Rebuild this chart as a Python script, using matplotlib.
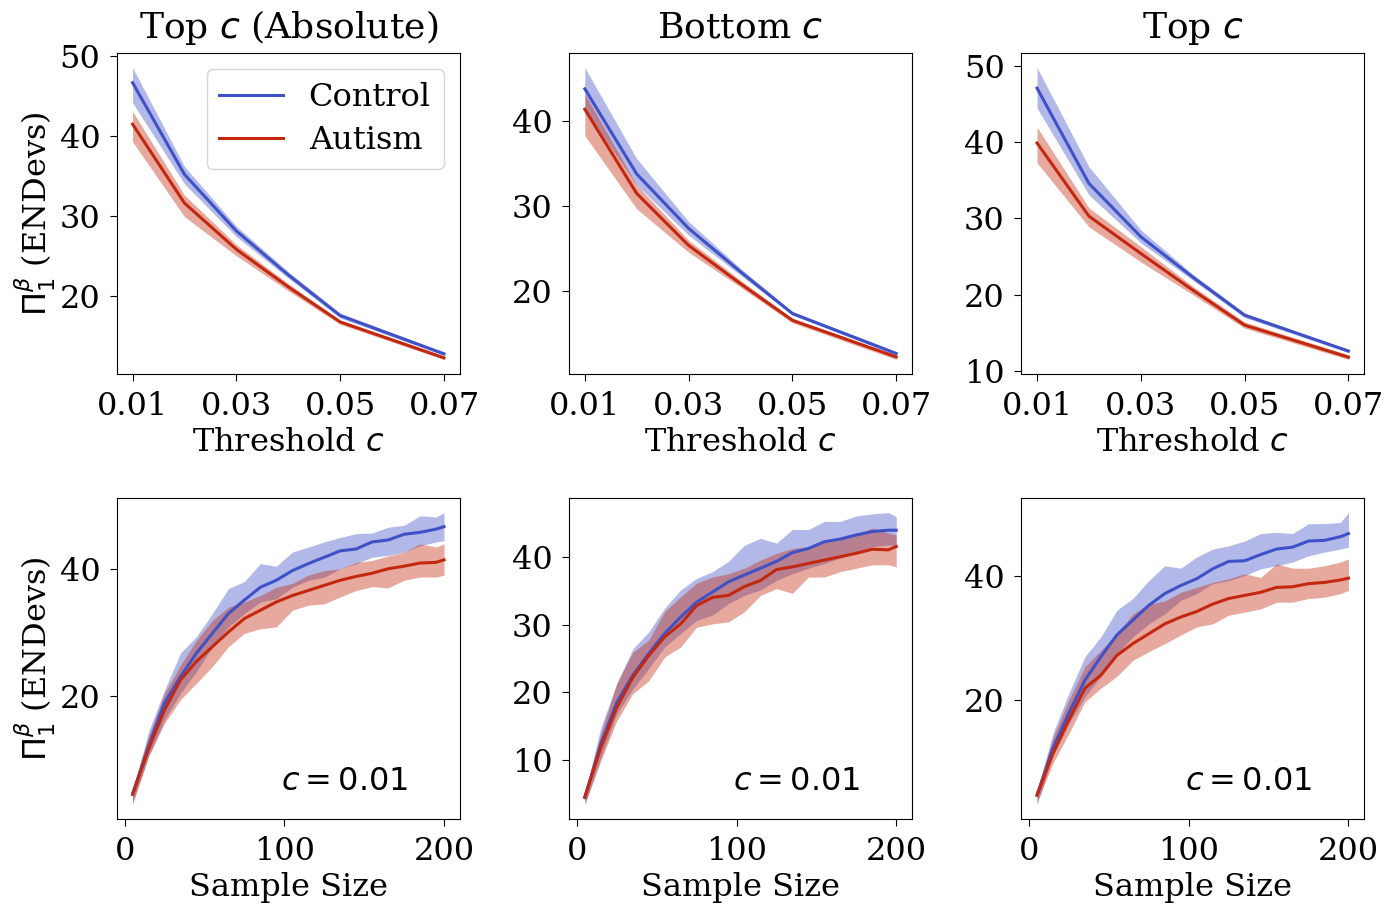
import numpy as np
import matplotlib
matplotlib.use("Agg")
import matplotlib.pyplot as plt

plt.rcParams['font.family'] = ['DejaVu Serif']
plt.rcParams['mathtext.fontset'] = 'dejavusans'

# ---------------- data ----------------
thresholds = [0.01, 0.02, 0.03, 0.04, 0.05, 0.07]

# Top c (Absolute)
abs_ctrl = [46.7, 35.2, 28.1, 22.6, 17.5, 12.7]
abs_ctrl_lo = [44.2, 34.0, 27.4, 22.2, 17.2, 12.5]
abs_ctrl_hi = [48.6, 36.2, 28.7, 23.0, 17.8, 12.9]
abs_aut = [41.5, 31.6, 25.8, 21.1, 16.7, 12.2]
abs_aut_lo = [39.3, 29.9, 25.0, 20.6, 16.4, 12.0]
abs_aut_hi = [43.1, 32.6, 26.4, 21.5, 16.9, 12.4]

# Bottom c
bot_ctrl = [43.8, 33.8, 27.4, 22.3, 17.4, 12.7]
bot_ctrl_lo = [41.4, 32.5, 26.6, 21.9, 17.2, 12.5]
bot_ctrl_hi = [46.3, 35.6, 28.2, 22.7, 17.6, 12.9]
bot_aut = [41.4, 31.5, 25.4, 20.9, 16.6, 12.3]
bot_aut_lo = [38.3, 29.7, 24.6, 20.5, 16.3, 12.0]
bot_aut_hi = [43.2, 32.5, 26.0, 21.3, 16.8, 12.5]

# Top c
top_ctrl = [47.1, 34.6, 27.6, 22.3, 17.3, 12.6]
top_ctrl_lo = [44.5, 33.1, 26.8, 21.9, 17.0, 12.4]
top_ctrl_hi = [49.8, 36.8, 28.5, 22.7, 17.6, 12.8]
top_aut = [39.9, 30.3, 25.4, 20.6, 16.0, 11.8]
top_aut_lo = [37.3, 28.9, 24.3, 20.0, 15.6, 11.5]
top_aut_hi = [42.0, 31.4, 26.3, 21.1, 16.4, 12.1]

sample_sizes = [5, 15, 25, 35, 45, 55, 65, 75, 85, 95, 105, 115, 125, 135,
                145, 155, 165, 175, 185, 195, 200]

# Top c (Absolute), c = 0.01
ss_abs_ctrl = [4.7, 12.2, 19.0, 23.1, 26.8, 29.9, 33.0, 35.1, 37.1, 38.2, 39.7,
               40.8, 41.8, 42.8, 43.1, 44.2, 44.5, 45.4, 45.7, 46.2, 46.6]
ss_abs_ctrl_hi = [5.2, 14.5, 21.0, 26.8, 29.4, 33.0, 36.9, 38.0, 40.8, 40.4, 42.6,
                  43.4, 44.2, 44.9, 45.5, 45.6, 46.5, 46.8, 48.3, 48.1, 48.8]
ss_abs_ctrl_lo = [3.4, 10.6, 16.4, 20.5, 23.9, 27.8, 30.9, 33.0, 34.8, 35.3, 37.1,
                  38.2, 38.7, 40.0, 40.8, 41.8, 42.1, 42.6, 43.6, 44.2, 44.4]
ss_abs_aut = [4.7, 11.8, 17.9, 22.6, 25.5, 27.8, 30.1, 32.2, 33.5, 34.8, 35.8,
              36.6, 37.4, 38.2, 38.8, 39.3, 40.0, 40.4, 40.9, 41.0, 41.4]
ss_abs_aut_hi = [5.5, 13.8, 20.5, 24.9, 28.8, 31.9, 34.0, 34.8, 35.8, 37.1, 37.7,
                 39.0, 39.7, 40.0, 41.0, 41.3, 42.0, 42.6, 43.9, 43.4, 43.9]
ss_abs_aut_lo = [3.1, 10.6, 15.8, 19.5, 22.1, 24.7, 27.8, 29.9, 30.6, 30.9, 33.5,
                 34.3, 34.5, 35.6, 36.6, 37.2, 37.0, 38.2, 38.7, 38.7, 39.0]

# Bottom c, c = 0.01
ss_bot_ctrl = [4.5, 12.4, 18.5, 22.5, 25.7, 28.7, 31.1, 33.3, 34.8, 36.3, 37.3,
               38.3, 39.3, 40.6, 41.2, 42.2, 42.6, 43.2, 43.7, 43.9, 43.9]
ss_bot_ctrl_hi = [5.0, 14.8, 21.3, 26.4, 28.9, 32.4, 35.1, 36.8, 37.8, 39.3, 41.7,
                  42.7, 42.0, 44.0, 44.0, 45.2, 45.2, 46.0, 46.3, 46.5, 45.9]
ss_bot_ctrl_lo = [3.5, 10.4, 16.8, 20.5, 23.5, 26.7, 28.7, 30.6, 31.4, 33.1, 34.3,
                  35.1, 36.5, 37.5, 38.3, 39.0, 39.8, 40.7, 41.5, 41.7, 41.7]
ss_bot_aut = [4.6, 11.9, 17.8, 22.2, 25.4, 28.2, 30.1, 32.8, 34.0, 34.3, 35.6,
              36.5, 38.1, 38.5, 39.0, 39.5, 40.0, 40.5, 41.1, 41.0, 41.5]
ss_bot_aut_hi = [5.2, 13.9, 21.3, 25.9, 27.7, 31.9, 34.1, 36.1, 37.0, 37.5, 38.3,
                 39.5, 40.5, 41.2, 41.5, 42.5, 42.7, 43.2, 44.2, 43.5, 43.2]
ss_bot_aut_lo = [3.5, 9.9, 15.8, 19.8, 21.7, 25.2, 26.7, 29.6, 30.1, 30.4, 31.9,
                 34.3, 35.3, 34.6, 37.0, 37.0, 37.8, 38.3, 38.8, 38.8, 38.5]

# Top c, c = 0.01
ss_top_ctrl = [4.6, 12.2, 17.9, 23.2, 27.0, 30.5, 32.9, 35.3, 37.2, 38.5, 39.6,
               41.2, 42.4, 42.5, 43.5, 44.4, 44.7, 45.7, 45.8, 46.4, 46.9]
ss_top_ctrl_hi = [5.3, 14.6, 21.1, 27.0, 30.2, 34.5, 36.4, 39.3, 41.7, 41.3, 43.1,
                  44.4, 44.9, 45.7, 46.9, 47.1, 46.9, 48.5, 48.5, 48.7, 50.3]
ss_top_ctrl_lo = [3.1, 10.9, 16.2, 20.5, 23.8, 27.5, 30.2, 32.3, 33.9, 36.1, 37.2,
                  38.8, 39.3, 40.1, 41.2, 41.7, 42.3, 43.3, 43.9, 44.4, 44.7]
ss_top_aut = [4.6, 11.4, 16.8, 21.9, 24.0, 27.2, 29.1, 30.7, 32.3, 33.4, 34.3,
              35.5, 36.4, 36.9, 37.4, 38.2, 38.3, 38.8, 39.0, 39.4, 39.7]
ss_top_aut_hi = [5.3, 13.9, 20.0, 25.4, 28.0, 30.7, 33.9, 35.5, 36.0, 37.4, 38.2,
                 39.0, 39.6, 40.4, 39.8, 42.0, 41.3, 41.3, 41.7, 42.3, 42.8]
ss_top_aut_lo = [3.4, 9.8, 14.6, 19.7, 21.9, 23.8, 26.4, 27.8, 29.1, 30.5, 31.8,
                 32.3, 33.7, 34.2, 34.7, 35.8, 35.8, 36.4, 36.6, 37.2, 37.7]

titles = ["Top $c$ (Absolute)", "Bottom $c$", "Top $c$"]
ylabel = r"$\Pi_1^\beta$ (ENDevs)"
ctrl_color = "#3f51c6"
aut_color = "#c3280e"

top_sets = [
    (abs_ctrl, abs_ctrl_lo, abs_ctrl_hi, abs_aut, abs_aut_lo, abs_aut_hi),
    (bot_ctrl, bot_ctrl_lo, bot_ctrl_hi, bot_aut, bot_aut_lo, bot_aut_hi),
    (top_ctrl, top_ctrl_lo, top_ctrl_hi, top_aut, top_aut_lo, top_aut_hi),
]
bottom_sets = [
    (ss_abs_ctrl, ss_abs_ctrl_lo, ss_abs_ctrl_hi, ss_abs_aut, ss_abs_aut_lo, ss_abs_aut_hi),
    (ss_bot_ctrl, ss_bot_ctrl_lo, ss_bot_ctrl_hi, ss_bot_aut, ss_bot_aut_lo, ss_bot_aut_hi),
    (ss_top_ctrl, ss_top_ctrl_lo, ss_top_ctrl_hi, ss_top_aut, ss_top_aut_lo, ss_top_aut_hi),
]

fig, axes = plt.subplots(2, 3, figsize=(13.98, 9.07), dpi=100)
fig.subplots_adjust(left=0.0837, right=0.9757, top=0.9416, bottom=0.097,
                    wspace=0.32, hspace=0.386)

FS = 23
LW = 2.2
ALPHA = 0.4

def draw(ax, x, s):
    c, clo, chi, a, alo, ahi = s
    ax.fill_between(x, clo, chi, color=ctrl_color, alpha=ALPHA, linewidth=0)
    ax.plot(x, c, color=ctrl_color, lw=LW, label="Control")
    ax.fill_between(x, alo, ahi, color=aut_color, alpha=ALPHA, linewidth=0)
    ax.plot(x, a, color=aut_color, lw=LW, label="Autism")

for j in range(3):
    ax = axes[0, j]
    draw(ax, thresholds, top_sets[j])
    ax.set_xticks([0.01, 0.03, 0.05, 0.07])
    ax.set_xticklabels(["0.01", "0.03", "0.05", "0.07"])
    ax.set_xlabel("Threshold $c$", fontsize=FS, labelpad=4)
    ax.set_title(titles[j], fontsize=26, pad=11)
    ax.tick_params(labelsize=FS, length=5, pad=7)
    ax.yaxis.set_major_locator(matplotlib.ticker.MultipleLocator(10))

    ax = axes[1, j]
    draw(ax, sample_sizes, bottom_sets[j])
    ax.set_xticks([0, 100, 200])
    ax.set_xlabel("Sample Size", fontsize=FS, labelpad=4)
    ax.tick_params(labelsize=FS, length=5, pad=7)
    ax.text(0.85, 0.07, "$c = 0.01$", transform=ax.transAxes, ha="right",
            va="bottom", fontsize=FS)

axes[1, 1].yaxis.set_major_locator(matplotlib.ticker.MultipleLocator(10))
axes[1, 0].yaxis.set_major_locator(matplotlib.ticker.MultipleLocator(20))
axes[1, 2].yaxis.set_major_locator(matplotlib.ticker.MultipleLocator(20))

axes[0, 0].set_ylabel(ylabel, fontsize=FS, labelpad=1)
axes[1, 0].set_ylabel(ylabel, fontsize=FS, labelpad=1)

axes[0, 0].legend(loc="upper right", fontsize=FS, handlelength=2.0,
                  borderpad=0.4, labelspacing=0.4)

fig.savefig("out.png", dpi=100)
